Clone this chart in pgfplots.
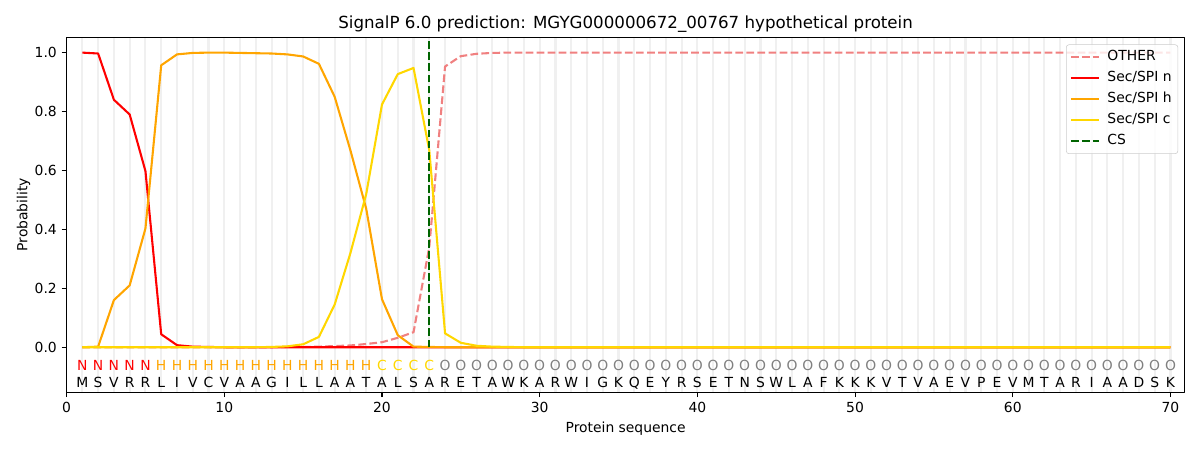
\documentclass[border=0pt]{standalone}
\usepackage{fontspec}
\setmainfont{DejaVu Sans}
\usepackage{pgfplots}
\pgfplotsset{compat=1.18}
\usepackage{pgfplotstable}
\definecolor{lcoral}{HTML}{F08080}
\definecolor{mplorange}{HTML}{FFA500}
\definecolor{mplgold}{HTML}{FFD700}
\definecolor{dgreen}{HTML}{006400}
\definecolor{stripe}{HTML}{F0F0F0}
\definecolor{mplgray}{HTML}{808080}

\pgfplotstableread{
x other n h c lab aa
1 0 1.000 0.000 0 N M
2 0 0.997 0.002 0 N S
3 0 0.840 0.160 0 N V
4 0 0.790 0.210 0 N R
5 0 0.598 0.403 0 N R
6 0 0.044 0.957 0 H L
7 0 0.007 0.994 0 H I
8 0 0.002 0.999 0 H V
9 0 0.001 1.000 0 H C
10 0 0 1.000 0 H V
11 0 0 0.999 0 H A
12 0 0 0.998 0 H A
13 0 0 0.997 0.001 H G
14 0.001 0 0.994 0.003 H I
15 0.001 0 0.987 0.010 H L
16 0.002 0 0.962 0.035 H L
17 0.004 0 0.850 0.145 H A
18 0.006 0 0.668 0.320 H A
19 0.011 0 0.470 0.520 H T
20 0.017 0 0.163 0.824 C A
21 0.032 0 0.041 0.927 C L
22 0.051 0 0.002 0.948 C S
23 0.340 0 0.001 0.668 C A
24 0.953 0 0 0.047 O R
25 0.988 0 0 0.015 O E
26 0.996 0 0 0.005 O T
27 0.999 0 0 0.002 O A
28 1 0 0 0.001 O W
29 1 0 0 0 O K
30 1 0 0 0 O A
31 1 0 0 0 O R
32 1 0 0 0 O W
33 1 0 0 0 O I
34 1 0 0 0 O G
35 1 0 0 0 O K
36 1 0 0 0 O Q
37 1 0 0 0 O E
38 1 0 0 0 O Y
39 1 0 0 0 O R
40 1 0 0 0 O S
41 1 0 0 0 O E
42 1 0 0 0 O T
43 1 0 0 0 O N
44 1 0 0 0 O S
45 1 0 0 0 O W
46 1 0 0 0 O L
47 1 0 0 0 O A
48 1 0 0 0 O F
49 1 0 0 0 O K
50 1 0 0 0 O K
51 1 0 0 0 O K
52 1 0 0 0 O V
53 1 0 0 0 O T
54 1 0 0 0 O V
55 1 0 0 0 O A
56 1 0 0 0 O E
57 1 0 0 0 O V
58 1 0 0 0 O P
59 1 0 0 0 O E
60 1 0 0 0 O V
61 1 0 0 0 O M
62 1 0 0 0 O T
63 1 0 0 0 O A
64 1 0 0 0 O R
65 1 0 0 0 O I
66 1 0 0 0 O A
67 1 0 0 0 O A
68 1 0 0 0 O D
69 1 0 0 0 O S
70 1 0 0 0 O K
}\data

\begin{document}
\begin{tikzpicture}
\useasboundingbox (-47.95pt,-41.54pt) rectangle (816.05pt,282.46pt);
\begin{axis}[
  at={(0,0)}, anchor=south west,
  scale only axis, width=805pt, height=255.6pt,
  xmin=0, xmax=70.9, ymin=-0.153, ymax=1.052,
  xtick={0,10,20,30,40,50,60,70},
  ytick={0,0.2,0.4,0.6,0.8,1},
  minor xtick={1,2,...,70},
  xminorgrids=true,
  minor grid style={stripe, line width=1.5pt},
  minor tick length=0pt,
  major tick length=3.5pt,
  tick align=outside,
  xtick pos=bottom, ytick pos=left,
  tick style={black, line width=0.8pt},
  axis line style={line width=0.8pt},
  /pgf/number format/assume math mode=true,
  yticklabel style={/pgf/number format/.cd, fixed, fixed zerofill, precision=1},
  xlabel={Protein sequence}, ylabel={Probability},
  ylabel style={yshift=-3.6pt},
  title={SignalP 6.0 prediction: MGYG000000672\_00767 hypothetical protein},
  title style={font=\fontsize{12}{14.4}\selectfont, anchor=base, yshift=0.2pt},
  legend image code/.code={\draw[#1] (0pt,0pt) -- (20pt,0pt); \path[draw=none,fill=none] (0pt,0pt) -- (24.4pt,0pt);},
  legend style={at={(0.9942,0.980)}, anchor=north east, draw=black!20, rounded corners=2pt,
    fill=white, fill opacity=0.8, text opacity=1, inner xsep=2.5pt, inner ysep=1.5pt,
    nodes={text height=7.4pt, text depth=2.4pt, inner ysep=2.65pt, inner xsep=2pt}},
  legend cell align=left,
  line join=round,
]
\addplot[lcoral, line width=1.5pt, dash pattern=on 5.55pt off 2.4pt] table[x=x, y=other] {\data};
\addlegendentry{OTHER}
\addplot[red, line width=1.5pt] table[x=x, y=n] {\data};
\addlegendentry{Sec/SPI n}
\addplot[mplorange, line width=1.5pt] table[x=x, y=h] {\data};
\addlegendentry{Sec/SPI h}
\addplot[mplgold, line width=1.5pt] table[x=x, y=c] {\data};
\addlegendentry{Sec/SPI c}
\addplot[dgreen, line width=1.5pt, dash pattern=on 5.55pt off 2.4pt] coordinates {(23,0) (23,1.04)};
\addlegendentry{CS}

\addplot[forget plot, draw=none, mark=none, restrict x to domain=1:5, point meta=explicit symbolic,
  nodes near coords, nodes near coords style={anchor=base, red, inner sep=0pt}]
  table[x=x, y expr=-0.078, meta=lab] {\data};
\addplot[forget plot, draw=none, mark=none, restrict x to domain=6:19, point meta=explicit symbolic,
  nodes near coords, nodes near coords style={anchor=base, mplorange, inner sep=0pt}]
  table[x=x, y expr=-0.078, meta=lab] {\data};
\addplot[forget plot, draw=none, mark=none, restrict x to domain=20:23, point meta=explicit symbolic,
  nodes near coords, nodes near coords style={anchor=base, mplgold, inner sep=0pt}]
  table[x=x, y expr=-0.078, meta=lab] {\data};
\addplot[forget plot, draw=none, mark=none, restrict x to domain=24:70, point meta=explicit symbolic,
  nodes near coords, nodes near coords style={anchor=base, mplgray, inner sep=0pt}]
  table[x=x, y expr=-0.078, meta=lab] {\data};
\addplot[forget plot, draw=none, mark=none, point meta=explicit symbolic,
  nodes near coords, nodes near coords style={anchor=base, black, inner sep=0pt}]
  table[x=x, y expr=-0.136, meta=aa] {\data};
\end{axis}
\end{tikzpicture}
\end{document}
